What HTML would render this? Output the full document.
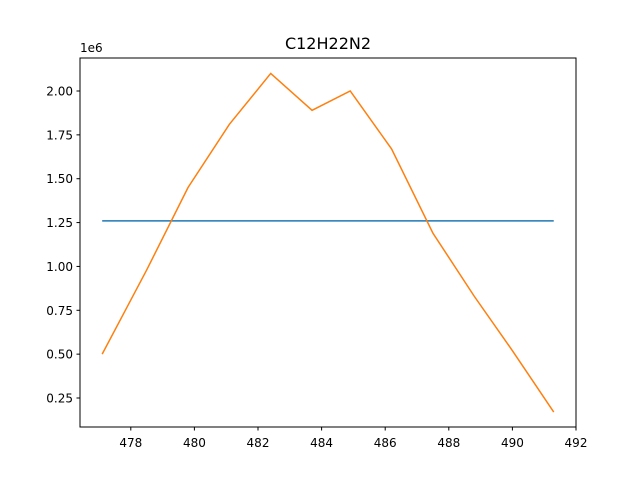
<!DOCTYPE html>
<html><head><meta charset="utf-8"><style>body{margin:0;background:#fff}svg{font-family:"DejaVu Sans","Liberation Sans",sans-serif}</style></head>
<body>
<svg id="chart" width="640" height="480">
<rect width="640" height="480" fill="#fff"/>
<text x="328" y="49" font-size="16" text-anchor="middle">C12H22N2</text>
<text x="80" y="52" font-size="12">1e6</text>
<g id="ticks"></g>
<g id="series"></g>
<rect x="80" y="58" width="496" height="369" fill="none" stroke="#000" stroke-width="1"/>
</svg>
<script>
const xTicks=[478,480,482,484,486,488,490,492];
const yTicks=[0.25,0.5,0.75,1.0,1.25,1.5,1.75,2.0];
const xs=[477.1,478.5,479.8,481.1,482.4,483.7,484.9,486.2,487.5,488.8,490.0,491.3];
const orangeVals=[0.5,0.98,1.45,1.81,2.1,1.89,2.0,1.67,1.19,0.83,0.52,0.17];
const blueVals=[1.26,1.26,1.26,1.26,1.26,1.26,1.26,1.26,1.26,1.26,1.26,1.26];
const X=v=>576-(492-v)*31.8;
const Y=v=>91+(2-v)*175.43;
const NS="http://www.w3.org/2000/svg";
const tg=document.getElementById('ticks'),sg=document.getElementById('series');
function mk(t,a,p){const e=document.createElementNS(NS,t);for(const k in a)e.setAttribute(k,a[k]);p.appendChild(e);return e;}
xTicks.forEach(t=>{const x=X(t);
const l=mk('line',{x1:x,x2:x,y1:427,y2:430.5,stroke:'#000'},tg);


const tx=mk('text',{x:x,y:447,'font-size':12,'text-anchor':'middle'},tg);tx.textContent=t;

});
yTicks.forEach(t=>{const y=Y(t);
const l=mk('line',{x1:76.5,x2:80,y1:y,y2:y,stroke:'#000'},tg);


const tx=mk('text',{x:73,y:y+4.5,'font-size':12,'text-anchor':'end'},tg);tx.textContent=t.toFixed(2);

});
function line(vals,c,name){const p=mk('polyline',{points:xs.map((x,i)=>X(x)+','+Y(vals[i])).join(' '),fill:'none',stroke:c,'stroke-width':1.5},sg);

}
line(blueVals,'#1f77b4','blue-series-line');
line(orangeVals,'#ff7f0e','orange-series-line');
</script>
</body></html>
